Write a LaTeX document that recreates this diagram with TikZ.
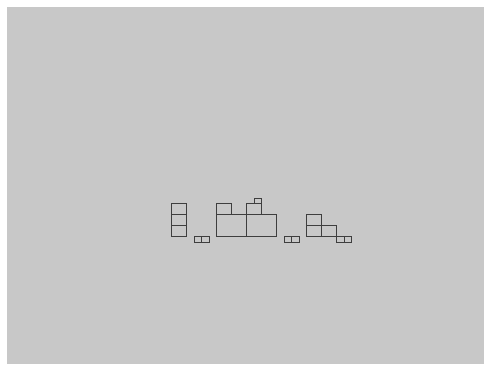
\documentclass[tikz,border=0pt]{standalone}
\usepackage{tikz}
\definecolor{bggray}{RGB}{200,200,200}
\definecolor{edgegray}{RGB}{62,62,62}
\tikzset{blockline/.style={draw=edgegray,line width=0.9pt}}
\newcommand{\unitbox}[2]{\draw[blockline] (#1,#2) rectangle ++(1,1);}
\newcommand{\bigbox}[2]{\draw[blockline] (#1,#2) rectangle ++(2,2);}
\newcommand{\halfbox}[2]{\draw[blockline] (#1,#2) rectangle ++(0.5,0.5);}

\begin{document}
\begin{tikzpicture}[x=15pt,y=11pt]
\useasboundingbox (-171.7pt,-127.3pt) rectangle (312.3pt,236.7pt);
\fill[bggray] (-164.7pt,-127.3pt) rectangle (312.3pt,229.7pt);
% tower
\unitbox{0}{0} \unitbox{0}{1} \unitbox{0}{2}
\halfbox{1.5}{-0.5} \halfbox{2}{-0.5}
% wide block
\bigbox{3}{0} \bigbox{5}{0}
\unitbox{3}{2} \unitbox{5}{2} \halfbox{5.5}{3}
\halfbox{7.5}{-0.5} \halfbox{8}{-0.5}
% steps
\unitbox{9}{1} \unitbox{9}{0} \unitbox{10}{0}
\halfbox{11}{-0.5} \halfbox{11.5}{-0.5}
\end{tikzpicture}
\end{document}
